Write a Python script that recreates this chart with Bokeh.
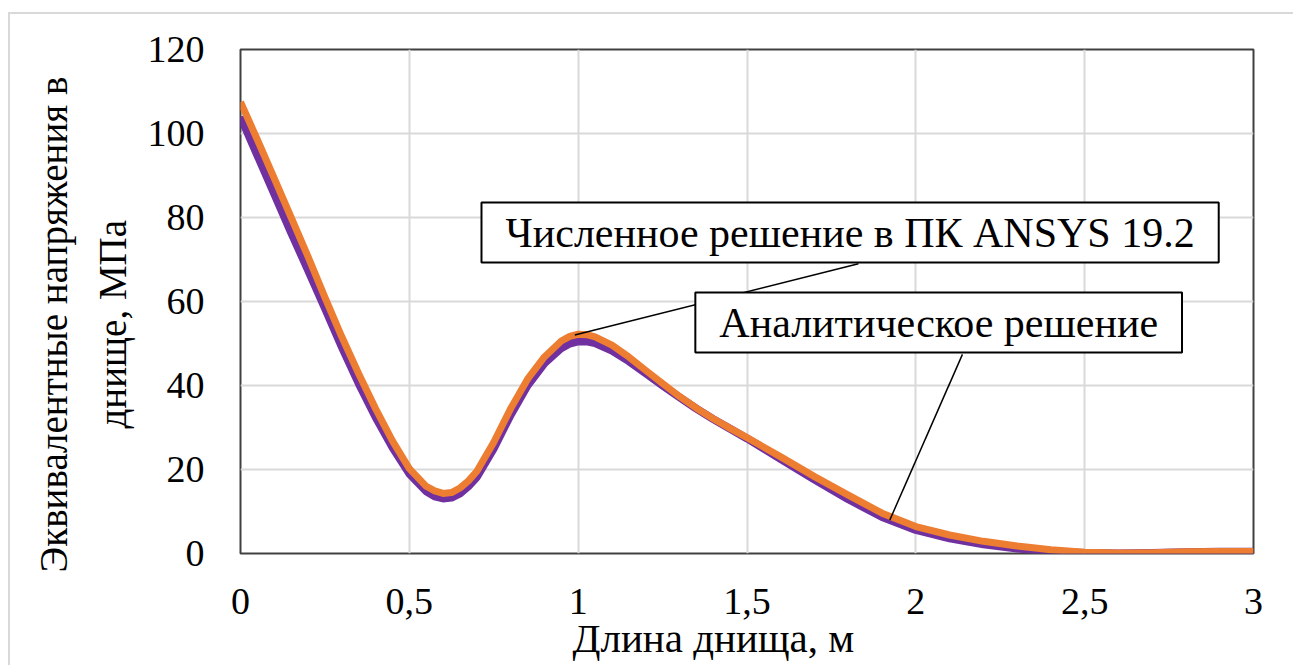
import numpy as np
from bokeh.plotting import figure
from bokeh.models import Range1d, FixedTicker, Label, Title, InlineStyleSheet
from bokeh.embed import file_html
from bokeh.resources import INLINE

# Length along the bottom, m
x_m = [0.00, 0.05, 0.10, 0.15, 0.20, 0.25, 0.30, 0.35, 0.40, 0.45, 0.50,
       0.55, 0.575, 0.60, 0.625, 0.65, 0.675, 0.70, 0.75, 0.80, 0.85, 0.90,
       0.95, 0.975, 1.00, 1.025, 1.05, 1.10, 1.15, 1.20, 1.25, 1.30, 1.35,
       1.40, 1.45, 1.50, 1.60, 1.70, 1.80, 1.90, 2.00, 2.10, 2.20, 2.30,
       2.40, 2.50, 2.60, 2.70, 2.80, 2.90, 3.00]

# Equivalent stress, MPa: ANSYS 19.2 numerical solution
stress_ansys = [107.5, 98.5, 89.3, 80.0, 70.7, 61.0, 51.6, 42.8, 34.5, 26.8,
                20.2, 16.0, 14.9, 14.3, 14.5, 15.6, 17.3, 19.6, 26.5, 34.5,
                41.5, 46.8, 50.6, 51.7, 52.2, 52.1, 51.6, 49.6, 46.8, 43.6,
                40.5, 37.4, 34.6, 32.1, 29.8, 27.6, 23.0, 18.3, 13.9, 9.6,
                6.4, 4.4, 2.9, 1.8, 0.9, 0.3, 0.1, 0.2, 0.4, 0.5, 0.5]

# Equivalent stress, MPa: analytical solution
stress_analytic = [104.0, 94.8, 85.6, 76.4, 67.5, 58.4, 49.2, 40.5, 32.5,
                   25.3, 19.0, 14.8, 13.6, 13.1, 13.3, 14.3, 16.0, 18.2,
                   25.0, 33.0, 40.0, 45.3, 48.9, 50.0, 50.5, 50.5, 50.1,
                   48.3, 45.8, 42.9, 40.0, 37.2, 34.5, 32.0, 29.7, 27.4,
                   22.5, 17.6, 12.9, 8.7, 5.6, 3.6, 2.2, 1.2, 0.5, 0.1, 0.0,
                   0.1, 0.3, 0.4, 0.4]

x_ticks = [0, 0.5, 1, 1.5, 2, 2.5, 3]
x_tick_labels = ["0", "0,5", "1", "1,5", "2", "2,5", "3"]
y_ticks = [0, 20, 40, 60, 80, 100, 120]

label_ansys = "Численное решение в ПК ANSYS 19.2"
label_analytic = "Аналитическое решение"
x_title = "Длина днища, м"
y_title_1 = "Эквивалентные напряжения в"
y_title_2 = "днище, МПа"

FONT = "Liberation Serif"
ORANGE = "#ED7D31"
PURPLE = "#7030A0"

p = figure(width=1293, height=665, output_backend="svg", toolbar_location=None,
           x_range=Range1d(0, 3), y_range=Range1d(0, 120),
           min_border_left=240, min_border_right=40,
           min_border_top=49, min_border_bottom=112)

p.background_fill_color = "white"
p.border_fill_color = "white"
p.outline_line_color = "#404040"
p.outline_line_width = 2

# thin grey frame around the whole chart area
p.stylesheets = [InlineStyleSheet(css="""
:host { position: relative; overflow: hidden; }
:host::after {
  content: ""; position: absolute; left: 8px; top: 12px;
  width: 1400px; height: 800px; border: 2px solid #D9D9D9;
  pointer-events: none;
}
""")]

for ax in (p.xaxis[0], p.yaxis[0]):
    ax.axis_line_color = None
    ax.major_tick_line_color = None
    ax.minor_tick_line_color = None
    ax.major_tick_out = 0
    ax.major_tick_in = 0
    ax.major_label_text_font = FONT
    ax.major_label_text_font_size = "38px"
    ax.major_label_text_color = "black"

p.xaxis[0].ticker = FixedTicker(ticks=x_ticks)
p.xaxis[0].major_label_overrides = {t: s for t, s in zip(x_ticks, x_tick_labels)}
p.xaxis[0].major_label_standoff = 35
p.yaxis[0].ticker = FixedTicker(ticks=y_ticks)
p.yaxis[0].major_label_standoff = 36

p.grid.grid_line_color = "#D9D9D9"
p.grid.grid_line_width = 2

# curves
p.line(x_m, stress_analytic, line_color=PURPLE, line_width=8,
       line_join="round")
p.line(x_m, stress_ansys, line_color=ORANGE, line_width=7,
       line_join="round")

# leader lines from the callouts to the curves
peak_x = 0.99
peak_y = float(np.interp(peak_x, x_m, stress_ansys))
tail_x = 1.923
tail_y = float(np.interp(tail_x, x_m, stress_analytic))
p.segment(x0=[1.830, 2.138], y0=[69.0, 47.4], x1=[peak_x, tail_x],
          y1=[peak_y, tail_y], line_color="black", line_width=1.5)

# callout boxes
for bx, by, txt in [(0.7137, 76.4, label_ansys), (1.347, 55.0, label_analytic)]:
    p.add_layout(Label(x=bx, y=by, text=txt, text_font=FONT,
                       text_font_size="42px", text_color="black",
                       text_align="left", text_baseline="middle",
                       background_fill_color="white",
                       border_line_color="black", border_line_width=2,
                       padding=dict(left=24, right=24, top=7, bottom=7)))

# axis titles
p.add_layout(Title(text=x_title, align="left", offset=332,
                   text_font=FONT, text_font_size="41px",
                   text_font_style="normal", text_color="black",
                   standoff=-7), "below")
p.add_layout(Title(text=y_title_2, align="left", offset=125,
                   text_font=FONT, text_font_size="39px",
                   text_font_style="normal", text_color="black",
                   standoff=22), "left")
p.add_layout(Title(text=y_title_1, align="left", offset=-19,
                   text_font=FONT, text_font_size="39px",
                   text_font_style="normal", text_color="black",
                   standoff=6), "left")

open("out.html", "w").write(file_html(p, INLINE))
